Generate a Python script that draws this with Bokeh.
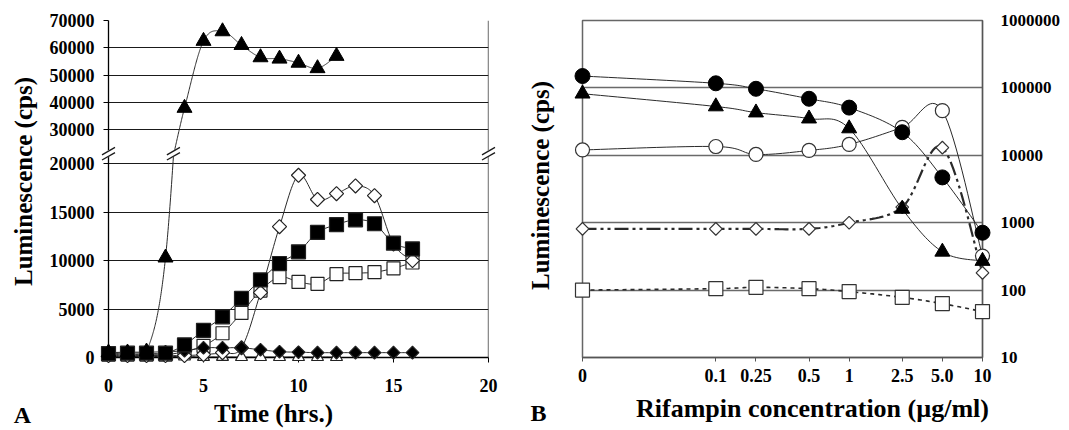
import math
from bokeh.plotting import figure
from bokeh.layouts import row
from bokeh.models import Range1d, FixedTicker, Span, CustomJSTickFormatter
from bokeh.core.properties import value
from bokeh.embed import file_html
from bokeh.resources import INLINE

# ---------------- Panel A: time course ----------------
hours = [0, 1, 2, 3, 4, 5, 6, 7, 8, 9, 10, 11, 12, 13, 14, 15, 16]
a_tri_filled = [500, 500, 600, 10300, 38000, 62500, 66000, 61000, 56500, 56000, 54500, 52500, 57000]
a_sq_filled = [400, 450, 450, 450, 1300, 2800, 4200, 6100, 8000, 9700, 10900, 12900, 13700, 14200, 13800, 11800, 11200]
a_sq_open = [300, 300, 300, 300, 600, 1200, 2500, 4600, 6900, 8300, 7800, 7600, 8600, 8700, 8800, 9200, 9800]
a_dia_open = [200, 200, 200, 200, 200, 300, 500, 1000, 6700, 13500, 18800, 16300, 16900, 17700, 16700, 11700, 10000]
a_dia_filled = [500, 550, 550, 600, 700, 1000, 1000, 1000, 800, 600, 550, 500, 500, 500, 500, 500, 500]
a_tri_open = [100, 100, 100, 100, 100, 60, 60, 50, 50, 50, 50, 50, 50]
a_top_ticks = [30000, 40000, 50000, 60000, 70000]
a_bot_ticks = [0, 5000, 10000, 15000, 20000]
a_x_ticks = [0, 5, 10, 15, 20]

# ---------------- Panel B: rifampin dose ----------------
conc_pos = [0.01, 0.1, 0.2, 0.5, 1.0, 2.5, 5.0, 10.0]
conc_labels = ["0", "0.1", "0.25", "0.5", "1", "2.5", "5.0", "10"]
b_circle_filled = [150000, 117000, 97000, 69000, 51000, 22000, 4700, 710]
b_tri_filled = [82000, 53000, 43000, 35000, 25000, 1600, 370, 270]
b_circle_open = [12000, 13500, 10300, 11800, 14500, 26000, 46000, 320]
b_dia_open = [810, 810, 810, 810, 1000, 1700, 13000, 180]
b_sq_open = [100, 105, 110, 105, 95, 78, 63, 48]
b_y_ticks = [10, 100, 1000, 10000, 100000, 1000000]

FONT = "Liberation Serif"
LINE = "#2a2a2a"

# ---------------- layout constants (pixels) ----------------
L_W, H = 498, 430
L_FL, L_FR, L_FT, L_FB = 108, 488, 18, 357
R_W = 571
R_FL, R_FR, R_FT, R_FB = 582, 982, 20, 359
B_PX = 195 / 20000.0          # px per unit in the lower (0-20000) part
T_PX = 27.5 / 10000.0         # px per unit in the upper part
RB = (L_FB - L_FT) / B_PX     # primary range top
TOP_HI = 70000.0
TOP_LO = TOP_HI - (L_FB - L_FT) / T_PX
BREAK_Y = 152


def lx(px):
    return (px - L_FL) / (L_FR - L_FL) * 20.0


def ly(py):
    return (L_FB - py) / B_PX


def ly_top(py):
    return TOP_HI - (py - L_FT) / T_PX


def rx(px):
    return 10 ** (-2 + (px - R_FL) / (R_FR - R_FL) * 3)


def ry(py):
    return 10 ** (1 + (R_FB - py) / (R_FB - R_FT) * 5)


def smooth_path(xs, ys, steps=16):
    n = len(xs)
    if n < 3:
        return list(xs), list(ys)
    px = [xs[0]] + list(xs) + [xs[-1]]
    py = [ys[0]] + list(ys) + [ys[-1]]
    ox, oy = [xs[0]], [ys[0]]
    for i in range(1, n):
        x0, x1, x2, x3 = px[i - 1], px[i], px[i + 1], px[i + 2]
        y0, y1, y2, y3 = py[i - 1], py[i], py[i + 1], py[i + 2]
        c1x, c1y = x1 + (x2 - x0) / 6, y1 + (y2 - y0) / 6
        c2x, c2y = x2 - (x3 - x1) / 6, y2 - (y3 - y1) / 6
        for k in range(1, steps + 1):
            t = k / steps
            u = 1 - t
            ox.append(u ** 3 * x1 + 3 * u * u * t * c1x + 3 * u * t * t * c2x + t ** 3 * x2)
            oy.append(u ** 3 * y1 + 3 * u * u * t * c1y + 3 * u * t * t * c2y + t ** 3 * y2)
    return ox, oy


def smooth_log(xs, ys, steps=16):
    sx, sy = smooth_path([math.log10(v) for v in xs], [math.log10(v) for v in ys], steps)
    return [10 ** v for v in sx], [10 ** v for v in sy]


def style_axis(ax, size="18px"):
    ax.major_label_text_font = FONT
    ax.major_label_text_font_style = "bold"
    ax.major_label_text_font_size = size
    ax.major_label_text_color = "black"
    ax.axis_line_color = "black"
    ax.axis_line_width = 1.3
    ax.major_tick_line_color = "black"
    ax.major_tick_in = 0
    ax.minor_tick_line_color = None


def add_text(p, x, y, txt, size, angle=0.0):
    p.text(x=[x], y=[y], text=[txt], text_font=value(FONT),
           text_font_style="bold", text_font_size=size,
           angle=angle, text_align="center", text_baseline="middle",
           text_color="black", level="overlay")


NEAREST_JS = """
let best = 0, bd = Infinity;
for (let i = 0; i < pos.length; i++) {
  const d = Math.abs(%s);
  if (d < bd) { bd = d; best = i; }
}
return labs[best];
"""

# ================= Panel A (single figure with broken axis) =================
left = figure(width=L_W, height=H, x_range=Range1d(0, 20), y_range=Range1d(0, RB),
              toolbar_location=None, output_backend="svg",
              min_border_left=L_FL, min_border_right=L_W - L_FR,
              min_border_top=L_FT, min_border_bottom=H - L_FB)
left.extra_y_ranges = {"top": Range1d(TOP_LO, TOP_HI)}
left.outline_line_color = None
left.xgrid.visible = False

top_pos = [(v - TOP_LO) / (TOP_HI - TOP_LO) * RB for v in a_top_ticks]
ypos_all = list(a_bot_ticks) + top_pos
ylab_all = [str(v) for v in a_bot_ticks] + [str(v) for v in a_top_ticks]
left.yaxis.ticker = FixedTicker(ticks=ypos_all)
left.yaxis.formatter = CustomJSTickFormatter(args=dict(pos=ypos_all, labs=ylab_all),
                                             code=NEAREST_JS % "pos[i] - tick")
left.ygrid.ticker = FixedTicker(ticks=ypos_all)
left.ygrid.grid_line_color = "#1a1a1a"
left.ygrid.grid_line_width = 1.2
left.xaxis.ticker = FixedTicker(ticks=a_x_ticks)
style_axis(left.yaxis[0])
style_axis(left.xaxis[0])
left.yaxis.major_tick_out = 5
left.yaxis.major_label_standoff = 9
left.xaxis.major_tick_out = 5
left.xaxis.major_label_standoff = 16
left.add_layout(Span(location=20, dimension="height", line_color="#1a1a1a", line_width=1.3))

series_a = [
    (a_tri_open, "triangle", 12, "white", 0),
    (a_sq_open, "square", 13, "white", 0),
    (a_dia_open, "square", 10, "white", math.pi / 4),
    (a_dia_filled, "square", 9, "black", math.pi / 4),
    (a_sq_filled, "square", 14, "black", 0),
]
for vals, mk, sz, fill, ang in series_a:
    xs = hours[:len(vals)]
    sx, sy = smooth_path(xs, vals)
    left.line(sx, sy, line_color=LINE, line_width=1)

# filled triangles: split across the axis break
tx = hours[:len(a_tri_filled)]
sx, sy = smooth_path(tx, a_tri_filled, steps=60)
cut_lo, cut_hi = ly(BREAK_Y + 1), ly_top(BREAK_Y - 1)
lo_pts = [(x, y) for x, y in zip(sx, sy) if y <= cut_lo]
hi_pts = [(x, y) for x, y in zip(sx, sy) if y >= cut_hi]
left.line([p[0] for p in lo_pts], [p[1] for p in lo_pts], line_color=LINE, line_width=1)
left.line([p[0] for p in hi_pts], [p[1] for p in hi_pts], line_color=LINE, line_width=1,
          y_range_name="top")

for vals, mk, sz, fill, ang in series_a:
    xs = hours[:len(vals)]
    left.scatter(xs, vals, marker=mk, size=sz, angle=ang, fill_color=fill,
                 line_color="#222222", line_width=1.2, level="overlay")
lo_m = [(x, y) for x, y in zip(tx, a_tri_filled) if y <= 20000]
hi_m = [(x, y) for x, y in zip(tx, a_tri_filled) if y > 20000]
left.scatter([p[0] for p in lo_m], [p[1] for p in lo_m], marker="triangle", size=15,
             fill_color="black", line_color="black", level="overlay")
left.scatter([p[0] for p in hi_m], [p[1] for p in hi_m], marker="triangle", size=15,
             fill_color="black", line_color="black", level="overlay", y_range_name="top")

# break marks "//" on the axis, on the curve and on the right border
cross_x = lo_pts[-1][0] if lo_pts else 3.35
bxs = [0, cross_x, 20]
left.scatter(bxs, [ly(BREAK_Y)] * 3, marker="square", size=6, angle=0.52,
             fill_color="white", line_color=None, level="overlay")
for off in (-2.6, 2.6):
    left.scatter(bxs, [ly(BREAK_Y + off)] * 3, marker="dash", size=15, angle=0.52,
                 line_color="#1a1a1a", line_width=1.3, level="overlay")

add_text(left, lx(23), ly(180), "Luminescence (cps)", "25px", angle=math.pi / 2)
add_text(left, lx(273), ly(413), "Time (hrs.)", "25px")
add_text(left, lx(22), ly(415), "A", "24px")

# ================= Panel B =================
right = figure(width=R_W, height=H, x_axis_type="log", y_axis_type="log",
               x_range=Range1d(0.01, 10), y_range=Range1d(10, 1000000),
               y_axis_location="right", toolbar_location=None, output_backend="svg",
               min_border_left=R_FL - L_W, min_border_right=L_W + R_W - R_FR,
               min_border_top=R_FT, min_border_bottom=H - R_FB)
right.xgrid.visible = False
right.outline_line_color = "#666666"
right.outline_line_width = 1.5
right.ygrid.ticker = FixedTicker(ticks=b_y_ticks)
right.ygrid.grid_line_color = "#6a6a6a"
right.ygrid.grid_line_width = 1.3
right.yaxis.ticker = FixedTicker(ticks=b_y_ticks)
right.yaxis.formatter = CustomJSTickFormatter(code="return Math.round(tick).toString();")
right.xaxis.ticker = FixedTicker(ticks=conc_pos)
right.xaxis.formatter = CustomJSTickFormatter(args=dict(pos=conc_pos, labs=conc_labels),
                                              code=NEAREST_JS % "Math.log(pos[i]) - Math.log(tick)")
style_axis(right.yaxis[0], "17px")
style_axis(right.xaxis[0], "18px")
right.yaxis.axis_line_color = "#555555"
right.xaxis.axis_line_color = "#555555"
right.yaxis.major_tick_out = 0
right.yaxis.major_label_standoff = 18
right.xaxis.major_tick_out = 4
right.xaxis.major_tick_line_color = "#555555"
right.xaxis.major_label_standoff = 7

b_lines = [
    (b_sq_open, "4 4", 1.6),
    (b_dia_open, "14 4 3 4 3 4", 2.2),
    (b_circle_open, "solid", 1),
    (b_tri_filled, "solid", 1),
    (b_circle_filled, "solid", 1),
]
for vals, dash, w in b_lines:
    sx, sy = smooth_log(conc_pos, vals)
    right.line(sx, sy, line_color=LINE, line_width=w, line_dash=dash)

right.scatter(conc_pos, b_sq_open, marker="square", size=14, fill_color="white",
              line_color="#333333", line_width=1.2, level="overlay")
right.scatter(conc_pos, b_circle_open, marker="circle", size=14, fill_color="white",
              line_color="#333333", line_width=1.2, level="overlay")
right.scatter(conc_pos, b_dia_open, marker="square", angle=math.pi / 4, size=9, fill_color="white",
              line_color="#333333", line_width=1.2, level="overlay")
right.scatter(conc_pos, b_tri_filled, marker="triangle", size=15, fill_color="black",
              line_color="black", level="overlay")
right.scatter(conc_pos, b_circle_filled, marker="circle", size=15, fill_color="black",
              line_color="black", level="overlay")

add_text(right, rx(540), ry(186), "Luminescence (cps)", "25px", angle=math.pi / 2)
add_text(right, rx(812), ry(410), "Rifampin concentration (\u00b5g/ml)", "26px")
add_text(right, rx(538), ry(415), "B", "24px")

layout = row(left, right)
open("out.html", "w").write(file_html(layout, INLINE))
